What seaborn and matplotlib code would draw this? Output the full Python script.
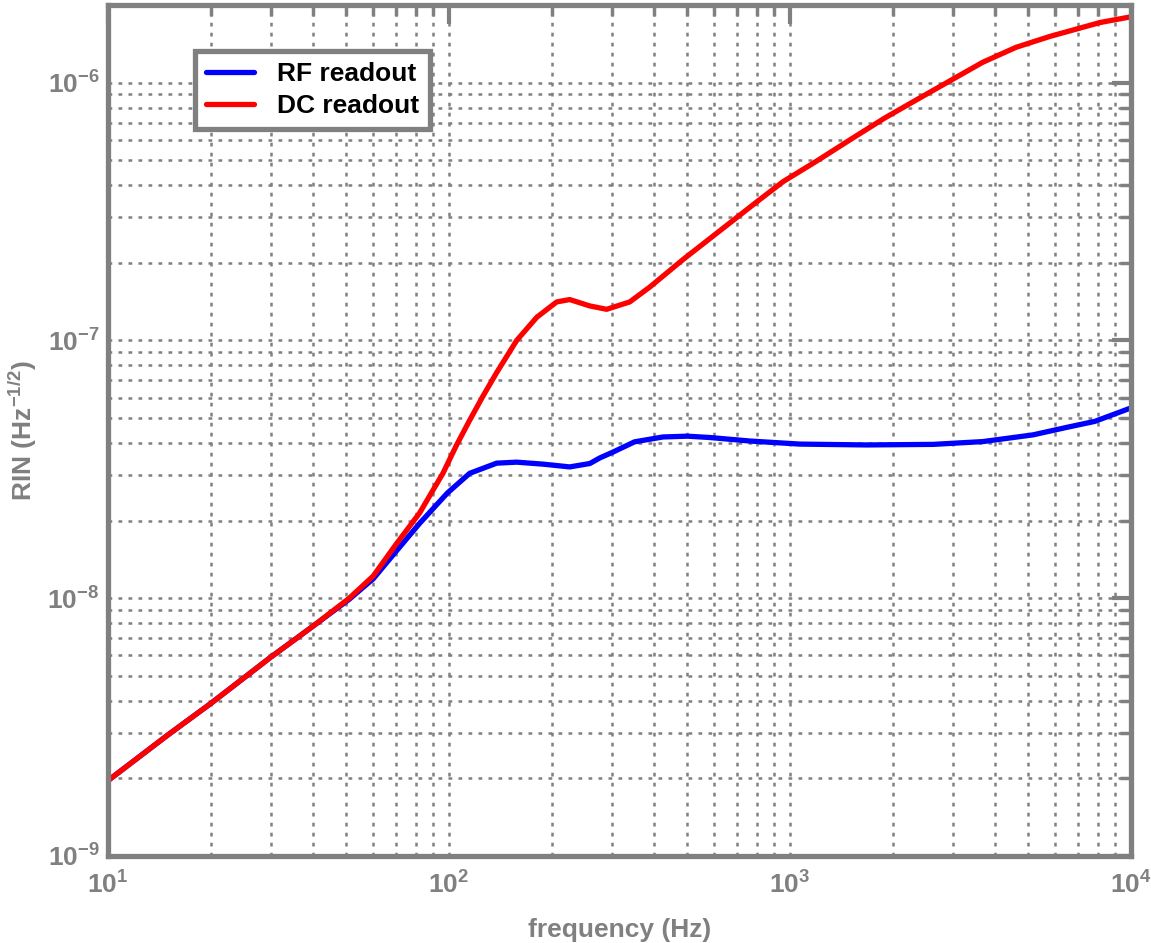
import numpy as np
import pandas as pd
import matplotlib
matplotlib.use("Agg")
import matplotlib.pyplot as plt
import seaborn as sns
from matplotlib.ticker import LogLocator, NullFormatter

# values (frequency in Hz, RIN in Hz^-1/2)
freq_dc = [10, 15, 20, 30, 40, 51, 60, 70, 82, 96, 105, 115, 126, 138, 158, 181, 207,
           226, 259, 290, 339, 388, 486, 611, 800, 955, 1200, 1500, 1900, 2360, 3000,
           3680, 4600, 5780, 8110, 10000]
rin_dc = [1.96e-9, 2.95e-9, 3.9e-9, 5.9e-9, 7.8e-9, 1.0e-8, 1.22e-8, 1.62e-8, 2.14e-8, 3.05e-8,
          3.9e-8, 4.9e-8, 6.1e-8, 7.5e-8, 1.0e-7, 1.23e-7, 1.41e-7,
          1.44e-7, 1.36e-7, 1.32e-7, 1.41e-7, 1.61e-7, 2.06e-7, 2.61e-7, 3.45e-7, 4.13e-7, 4.97e-7,
          6.0e-7, 7.3e-7, 8.6e-7, 1.03e-6, 1.2e-6, 1.37e-6, 1.51e-6, 1.71e-6, 1.80e-6]

freq_rf = [10, 15, 20, 30, 40, 51, 60, 70, 82, 99, 115, 138, 158, 189, 226, 259, 277,
           303, 350, 424, 500, 582, 763, 1070, 1680, 2630, 3680, 5160, 6490, 7830, 10000]
rin_rf = [1.96e-9, 2.95e-9, 3.9e-9, 5.9e-9, 7.8e-9, 9.9e-9, 1.19e-8, 1.52e-8, 1.95e-8, 2.56e-8,
          3.05e-8, 3.34e-8, 3.37e-8, 3.31e-8, 3.23e-8, 3.33e-8, 3.5e-8,
          3.69e-8, 4.04e-8, 4.22e-8, 4.25e-8, 4.2e-8, 4.07e-8, 3.96e-8, 3.93e-8, 3.95e-8, 4.05e-8,
          4.3e-8, 4.6e-8, 4.85e-8, 5.47e-8]

series_names = ["RF readout", "DC readout"]
series_colors = ["#0000ff", "#ff0000"]

df = pd.concat([
    pd.DataFrame({"freq": freq_rf, "rin": rin_rf, "readout": series_names[0]}),
    pd.DataFrame({"freq": freq_dc, "rin": rin_dc, "readout": series_names[1]}),
])

sns.set_style("white")
plt.rcParams['font.family'] = ['Liberation Sans', 'DejaVu Sans']
plt.rcParams['font.weight'] = 'bold'
plt.rcParams['mathtext.default'] = 'regular'

gray = "#808080"
fig = plt.figure(figsize=(11.51, 9.43), dpi=100)
ax = fig.add_axes([0.0938, 0.0923, 0.9826 - 0.0938, 0.9947 - 0.0923])

sns.lineplot(data=df, x="freq", y="rin", hue="readout", hue_order=series_names,
             palette=series_colors, linewidth=3.8, ax=ax, estimator=None, sort=False)

ax.set_xscale("log")
ax.set_yscale("log")
ax.set_xlim(10, 1e4)
ax.set_ylim(1e-9, 2e-6)

ax.xaxis.set_major_locator(LogLocator(base=10, numticks=10))
ax.yaxis.set_major_locator(LogLocator(base=10, numticks=10))
ax.xaxis.set_minor_locator(LogLocator(base=10, subs=np.arange(2, 10), numticks=20))
ax.yaxis.set_minor_locator(LogLocator(base=10, subs=np.arange(2, 10), numticks=20))
ax.xaxis.set_minor_formatter(NullFormatter())
ax.yaxis.set_minor_formatter(NullFormatter())

ax.grid(True, which="both", linestyle=(0, (1.5, 2.5)), color=gray, linewidth=1.8)
ax.set_axisbelow(True)

for sp in ax.spines.values():
    sp.set_color(gray)
    sp.set_linewidth(3.8)
ax.tick_params(which="both", direction="in", top=True, right=True, color=gray,
               labelcolor=gray, labelsize=19)
ax.tick_params(which="major", length=14, width=3)
ax.tick_params(which="minor", length=8, width=2.5)
ax.tick_params(axis="x", which="major", pad=11)
ax.tick_params(axis="y", which="major", pad=6)

ax.set_xlabel("frequency (Hz)", color=gray, fontsize=19, fontweight="bold", labelpad=14)
ax.set_ylabel("RIN (Hz$^{-1/2}$)", color=gray, fontsize=19, fontweight="bold", labelpad=6)

leg = ax.legend(loc="upper left", bbox_to_anchor=(0.085, 0.946), fontsize=19,
                frameon=True, fancybox=False, handlelength=1.8, borderpad=0.42,
                labelspacing=0.3, handletextpad=0.9, borderaxespad=0)
leg.get_frame().set_edgecolor(gray)
leg.get_frame().set_linewidth(3.8)
leg.get_frame().set_alpha(1)
for t in leg.get_texts():
    t.set_color("black")
    t.set_fontweight("bold")

fig.savefig("out.png", dpi=100)
